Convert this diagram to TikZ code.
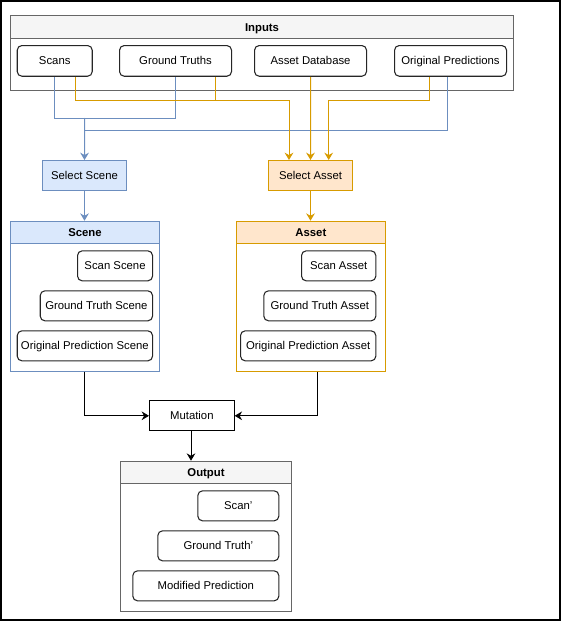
\documentclass[tikz,border=0pt]{standalone}
\usepackage{fontspec}
\setmainfont{Liberation Sans}
\usetikzlibrary{arrows.meta}
\definecolor{bluestroke}{HTML}{6C8EBF}
\definecolor{bluefill}{HTML}{DAE8FC}
\definecolor{orstroke}{HTML}{D79B00}
\definecolor{orfill}{HTML}{FFE6CC}
\definecolor{grstroke}{HTML}{666666}
\definecolor{grfill}{HTML}{F5F5F5}
\tikzset{
  sz/.style 2 args={minimum width=#1*0.75pt, minimum height=#2*0.75pt, inner sep=0pt, anchor=north west},
  txt/.style={font=\fontsize{8.5}{10}\selectfont, text height=6pt, text depth=0pt},
  item/.style={draw=black!85, line width=0.8pt, rounded corners=3.5pt, fill=white, txt},
  plainbox/.style={draw=black, line width=0.75pt, fill=white, txt},
  body/.style={draw=#1, line width=0.75pt, fill=white},
  header/.style 2 args={draw=#1, fill=#2, line width=0.75pt, font=\bfseries\fontsize{8.5}{10}\selectfont, text height=6pt, text depth=0pt},
  sel/.style 2 args={draw=#1, fill=#2, line width=0.75pt, txt},
  bl/.style={draw=bluestroke, line width=0.75pt},
  ol/.style={draw=orstroke, line width=0.75pt},
  kl/.style={draw=black, line width=0.75pt},
  tip/.style={-{Stealth[width=6.5pt,length=5.5pt,inset=1.8pt]}},
}
\begin{document}
\begin{tikzpicture}[x=0.75pt,y=-0.75pt]
\useasboundingbox (0,0) rectangle (561,621);
\draw[line width=1.2pt] (0.8,0.8) rectangle (560.2,620.2);

% Inputs
\node[body=grstroke, sz={503}{75}] (inputs) at (10,15) {};
\node[header={grstroke}{grfill}, sz={503}{23.3}] (inputsh) at (10,15) {Inputs};
\node[item, sz={75}{30.7}] (scans) at (16.7,45) {Scans};
\node[item, sz={112}{30.7}] (gt) at (119,45) {Ground Truths};
\node[item, sz={112}{30.7}] (adb) at (254,45) {Asset Database};
\node[item, sz={112}{30.7}] (op) at (394,45) {Original Predictions};

% Select nodes
\node[sel={bluestroke}{bluefill}, sz={84}{30}] (selscene) at (42,160) {Select Scene};
\node[sel={orstroke}{orfill}, sz={84}{30}] (selasset) at (268,160) {Select Asset};

% Scene
\node[body=bluestroke, sz={149}{150}] (scene) at (10,220.7) {};
\node[header={bluestroke}{bluefill}, sz={149}{22.6}] (sceneh) at (10,220.7) {Scene};
\node[item, sz={75}{30}] (ss) at (77,250.3) {Scan Scene};
\node[item, sz={112.3}{30}] (gts) at (39.7,290.3) {Ground Truth Scene};
\node[item, sz={135.3}{30}] (ops) at (16.7,330.3) {Original Prediction Scene};

% Asset
\node[body=orstroke, sz={149.3}{150}] (asset) at (235.7,220.7) {};
\node[header={orstroke}{orfill}, sz={149.3}{22.6}] (asseth) at (235.7,220.7) {Asset};
\node[item, sz={74.3}{30}] (sa) at (301,250.3) {Scan Asset};
\node[item, sz={112}{30}] (gta) at (263.3,290.3) {Ground Truth Asset};
\node[item, sz={135.3}{30}] (opa) at (240,330.3) {Original Prediction Asset};

% Mutation
\node[plainbox, sz={84.7}{30}] (mut) at (149,400.3) {Mutation};

% Output
\node[body=grstroke, sz={170.4}{150}] (out) at (120.3,460.7) {};
\node[header={grstroke}{grfill}, sz={170.4}{22.6}] (outh) at (120.3,460.7) {Output};
\node[item, sz={81}{30}] (scanp) at (197.3,490.3) {Scan'};
\node[item, sz={121}{30}] (gtp) at (157.3,530.3) {Ground Truth'};
\node[item, sz={146}{30}] (modp) at (132.3,570.3) {Modified Prediction};

% coordinates
\coordinate (jb) at (84.7,118);
\coordinate (jb2) at (84.7,130);

% blue connectors
\draw[bl] (scans.south west -| 54,0) -- (54,118) -- (175,118) -- (gt.south west -| 175,0);
\draw[bl,tip] (jb) -- (selscene.north);
\draw[bl] (op.south west -| 447.7,0) -- (447.7,130) -- (jb2);

% orange connectors
\draw[ol,tip] (scans.south west -| 75.7,0) -- (75.7,100) -- (289,100) -- (selasset.north west -| 289,0);
\draw[ol] (gt.south west -| 215,0) -- (215,100);
\draw[ol,tip] (adb.south) -- (selasset.north);
\draw[ol,tip] (op.south west -| 429,0) -- (429,100) -- (328.7,100) -- (selasset.north west -| 328.7,0);

% select to containers
\draw[bl,tip] (selscene.south) -- (sceneh.north -| selscene.south);
\draw[ol,tip] (selasset.south) -- (asseth.north -| selasset.south);

% to mutation
\draw[kl,tip] (scene.south west -| 84.7,0) |- (mut.west);
\draw[kl,tip] (asset.south west -| 317,0) |- (mut.east);
\draw[kl,tip] (mut.south west -| 191,0) -- (outh.north west -| 191,0);
\end{tikzpicture}
\end{document}
